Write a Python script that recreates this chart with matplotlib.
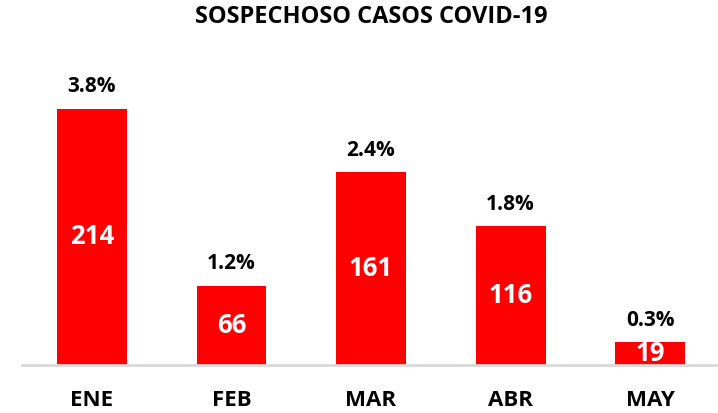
import matplotlib
matplotlib.use("Agg")
import matplotlib.pyplot as plt

# Data
months = ['ENE', 'FEB', 'MAR', 'ABR', 'MAY']
casos = [214, 66, 161, 116, 19]
porcentaje = ['3.8%', '1.2%', '2.4%', '1.8%', '0.3%']

plt.rcParams['font.family'] = ['Open Sans', 'DejaVu Sans']

W, H = 718, 413
fig = plt.figure(figsize=(W / 100, H / 100), dpi=100)
# axes in pixel coords: left 22, right 720, bottom (baseline) 365, top 50
ax = fig.add_axes([22 / W, (H - 365) / H, 698 / W, 315 / H])

x = range(len(months))
bars = ax.bar(x, casos, width=0.5, color='#ff0000', zorder=2)

px_per_unit = 256 / 214
ax.set_ylim(0, 315 / px_per_unit)
ax.set_xlim(-0.5, len(months) - 0.5)

for i, (v, p) in enumerate(zip(casos, porcentaje)):
    ax.text(i, v / 2, str(v), ha='center', va='center', color='white',
            fontsize=18.5, fontweight='bold')
    ax.annotate(p, (i, v), xytext=(0, 16), textcoords='offset points',
                ha='center', va='center', fontsize=15, fontweight='bold')

ax.set_xticks(list(x))
ax.set_xticklabels(months, fontsize=16, fontweight='bold')
ax.tick_params(axis='x', length=0, pad=18)
ax.set_yticks([])
for s in ['top', 'right', 'left']:
    ax.spines[s].set_visible(False)
ax.spines['bottom'].set_color('#d9d9d9')
ax.spines['bottom'].set_linewidth(2)

fig.text(371 / W, 1 - 17 / H, 'SOSPECHOSO CASOS COVID-19', ha='center',
         va='center', fontsize=17, fontweight='bold')

fig.savefig('out.png', dpi=100)
